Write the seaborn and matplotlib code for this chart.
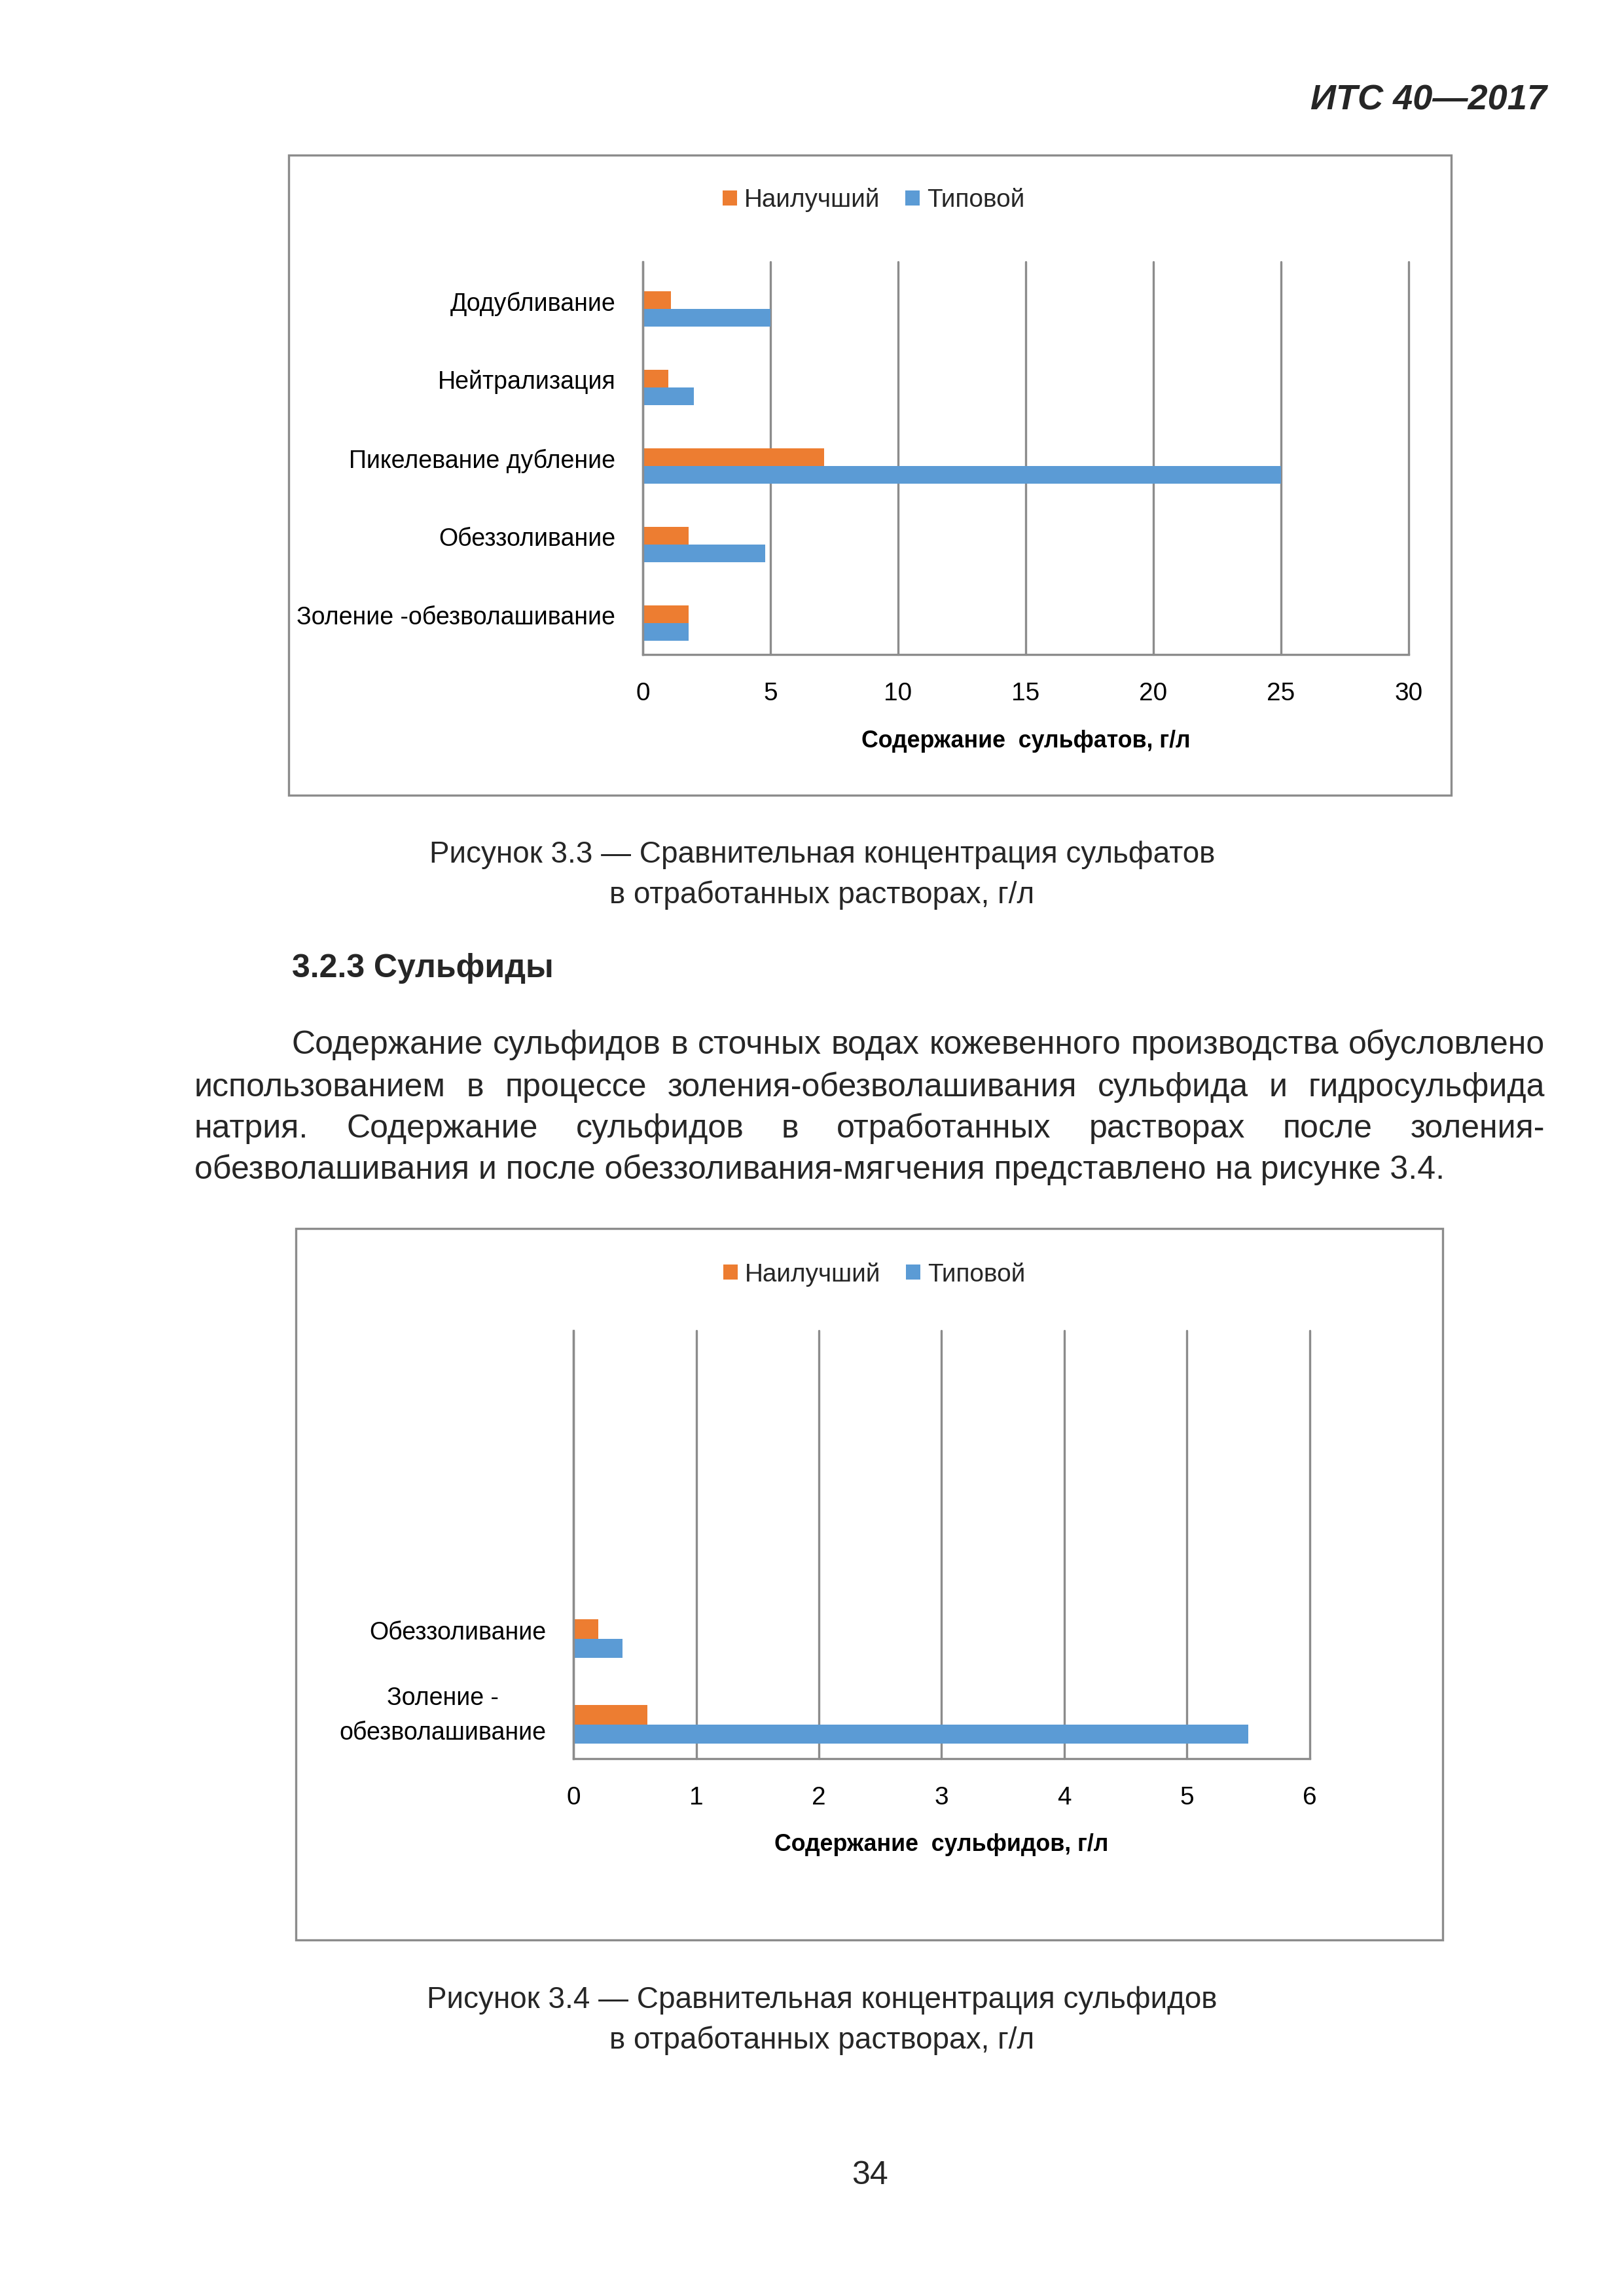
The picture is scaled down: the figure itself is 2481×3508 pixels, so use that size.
import numpy as np
import pandas as pd
import matplotlib
matplotlib.use("Agg")
import matplotlib.pyplot as plt
import seaborn as sns
from matplotlib.patches import Rectangle

# ---------------- data ----------------
series = ["Наилучший", "Типовой"]

cat1 = ["Додубливание", "Нейтрализация", "Пикелевание дубление",
        "Обеззоливание", "Золение -обезволашивание"]
best1 = [1.1, 1.0, 7.1, 1.8, 1.8]
typ1 = [5.0, 2.0, 25.0, 4.8, 1.8]
ticks1 = [0, 5, 10, 15, 20, 25, 30]
xlabel1 = "Содержание  сульфатов, г/л"

cat2 = ["Обеззоливание", "Золение -\nобезволашивание"]
best2 = [0.2, 0.6]
typ2 = [0.4, 5.5]
ticks2 = [0, 1, 2, 3, 4, 5, 6]
xlabel2 = "Содержание  сульфидов, г/л"

header = "ИТС 40—2017"
caption1 = ["Рисунок 3.3 — Сравнительная концентрация сульфатов",
            "в отработанных растворах, г/л"]
heading = "3.2.3 Сульфиды"
para_lines = [
    "Содержание сульфидов в сточных водах кожевенного производства обусловлено",
    "использованием в процессе золения-обезволашивания сульфида и гидросульфида",
    "натрия. Содержание сульфидов в отработанных растворах после золения-",
    "обезволашивания и после обеззоливания-мягчения представлено на рисунке 3.4.",
]
caption2 = ["Рисунок 3.4 — Сравнительная концентрация сульфидов",
            "в отработанных растворах, г/л"]
page_num = "34"

colors = ["#ED7D31", "#5B9BD5"]
GRID = "#8C8C8C"

# ---------------- figure ----------------
W, H = 2481, 3508
DPI = 300
sns.set_theme(style="white")
plt.rcParams["font.family"] = ["Liberation Sans", "DejaVu Sans"]

fig = plt.figure(figsize=(W / DPI, H / DPI), dpi=DPI)
fig.patch.set_facecolor("white")


def fx(px):
    return px / W


def fy(py):
    return 1 - py / H


def px2pt(p):
    return p * 72.0 / DPI


CHART_FS = 9.0
LABEL_FS = 8.6


def draw_chart(box, axpx, cats, best, typ, ticks, xlabel, nslots, leg_c,
               all_bounds, xlabel_off):
    bx0, by0, bx1, by1 = box
    fig.patches.append(Rectangle((fx(bx0), fy(by1)), (bx1 - bx0) / W, (by1 - by0) / H,
                                 transform=fig.transFigure, fill=False,
                                 edgecolor=GRID, lw=0.8))
    al, at, ar, ab = axpx
    ax = fig.add_axes([fx(al), fy(ab), (ar - al) / W, (ab - at) / H])
    df = pd.DataFrame({
        "cat": list(cats) * 2,
        "series": [series[0]] * len(cats) + [series[1]] * len(cats),
        "val": list(best) + list(typ),
    })
    sns.barplot(data=df, y="cat", x="val", hue="series", hue_order=series,
                order=list(cats), palette=colors, orient="h", width=0.45,
                saturation=1, linewidth=0, ax=ax, legend=True)
    n = len(cats)
    bottom = n - 1 + 0.4
    ax.set_ylim(bottom, bottom - nslots)
    ax.set_xlim(ticks[0], ticks[-1])
    ax.set_xticks(ticks)
    ax.set_xticklabels([str(t) for t in ticks], fontsize=CHART_FS + 0.3, color="#000000")
    ax.set_yticks(np.arange(n) - 0.1)
    ax.set_yticklabels(cats, fontsize=CHART_FS, color="#000000")
    for t in ax.get_yticklabels():
        t.set_multialignment("center")
        t.set_linespacing(1.6)
        if "\n" in t.get_text():
            t.set_va("center")
    if all_bounds:
        bnds = bottom - np.arange(nslots + 1)
    else:
        bnds = [bottom - nslots]
    ax.set_yticks(bnds, minor=True)
    ax.tick_params(axis="y", which="major", length=0, pad=10)
    ax.tick_params(axis="y", which="minor", direction="in", length=px2pt(12),
                   width=0.8, color=GRID)
    ax.tick_params(axis="x", which="major", direction="out", length=px2pt(13),
                   width=0.8, color=GRID, pad=7)
    for s in ["top", "right"]:
        ax.spines[s].set_visible(False)
    for s in ["left", "bottom"]:
        ax.spines[s].set_color(GRID)
        ax.spines[s].set_linewidth(0.8)
    ax.grid(axis="x", color=GRID, lw=0.8)
    ax.grid(axis="y", visible=False)
    for gl in ax.get_xgridlines():
        gl.set_clip_on(False)
    ax.set_axisbelow(True)
    ax.set_ylabel("")
    ax.set_xlabel(xlabel, fontsize=LABEL_FS, fontweight="bold", color="#000000")
    ax.xaxis.set_label_coords(0.5, -xlabel_off / (ab - at))
    ax.xaxis.label.set_va("center")
    ax.set_facecolor("white")
    h, l = ax.get_legend_handles_labels()
    if ax.get_legend() is not None:
        ax.get_legend().remove()
    fig.legend(h, l, loc="center", bbox_to_anchor=(fx(leg_c[0]), fy(leg_c[1])),
               ncol=2, frameon=False, fontsize=CHART_FS + 0.3, handlelength=0.55,
               handleheight=0.55, handletextpad=0.3, columnspacing=1.0,
               borderaxespad=0, borderpad=0)
    return ax


draw_chart((441, 237, 2217, 1215), (982, 400, 2152, 1000), cat1, best1, typ1,
           ticks1, xlabel1, 5, (1335, 306), True, 132)
draw_chart((452, 1877, 2204, 2964), (876, 2033, 2001, 2687), cat2, best2, typ2,
           ticks2, xlabel2, 5, (1336, 1947), False, 131)

# ---------------- page text ----------------
BODY = 12
fig.text(fx(2363), fy(167), header, ha="right", va="baseline", fontsize=13,
         fontweight="bold", fontstyle="italic")

for i, line in enumerate(caption1):
    fig.text(fx(1256), fy(1318 + 62 * i), line, ha="center", va="baseline", fontsize=11)
for i, line in enumerate(caption2):
    fig.text(fx(1256), fy(3068 + 62 * i), line, ha="center", va="baseline", fontsize=11)

fig.text(fx(446), fy(1493), heading, ha="left", va="baseline", fontsize=BODY,
         fontweight="bold")

renderer = fig.canvas.get_renderer()


def justify(line, x0, x1, ybase):
    words = line.split(" ")
    texts = [fig.text(0, fy(ybase), w, ha="left", va="baseline", fontsize=BODY)
             for w in words]
    widths = [t.get_window_extent(renderer).width for t in texts]
    gap = (x1 - x0 - sum(widths)) / max(len(words) - 1, 1)
    x = x0
    for t, w in zip(texts, widths):
        t.set_x(fx(x))
        x += w + gap


para_base = [1610, 1675, 1738, 1801]
justify(para_lines[0], 446, 2360, para_base[0])
justify(para_lines[1], 297, 2360, para_base[1])
justify(para_lines[2], 297, 2360, para_base[2])
fig.text(fx(297), fy(para_base[3]), para_lines[3], ha="left", va="baseline", fontsize=BODY)

fig.text(fx(1329), fy(3337), page_num, ha="center", va="baseline", fontsize=BODY)

fig.savefig("out.png", dpi=DPI, facecolor="white")
